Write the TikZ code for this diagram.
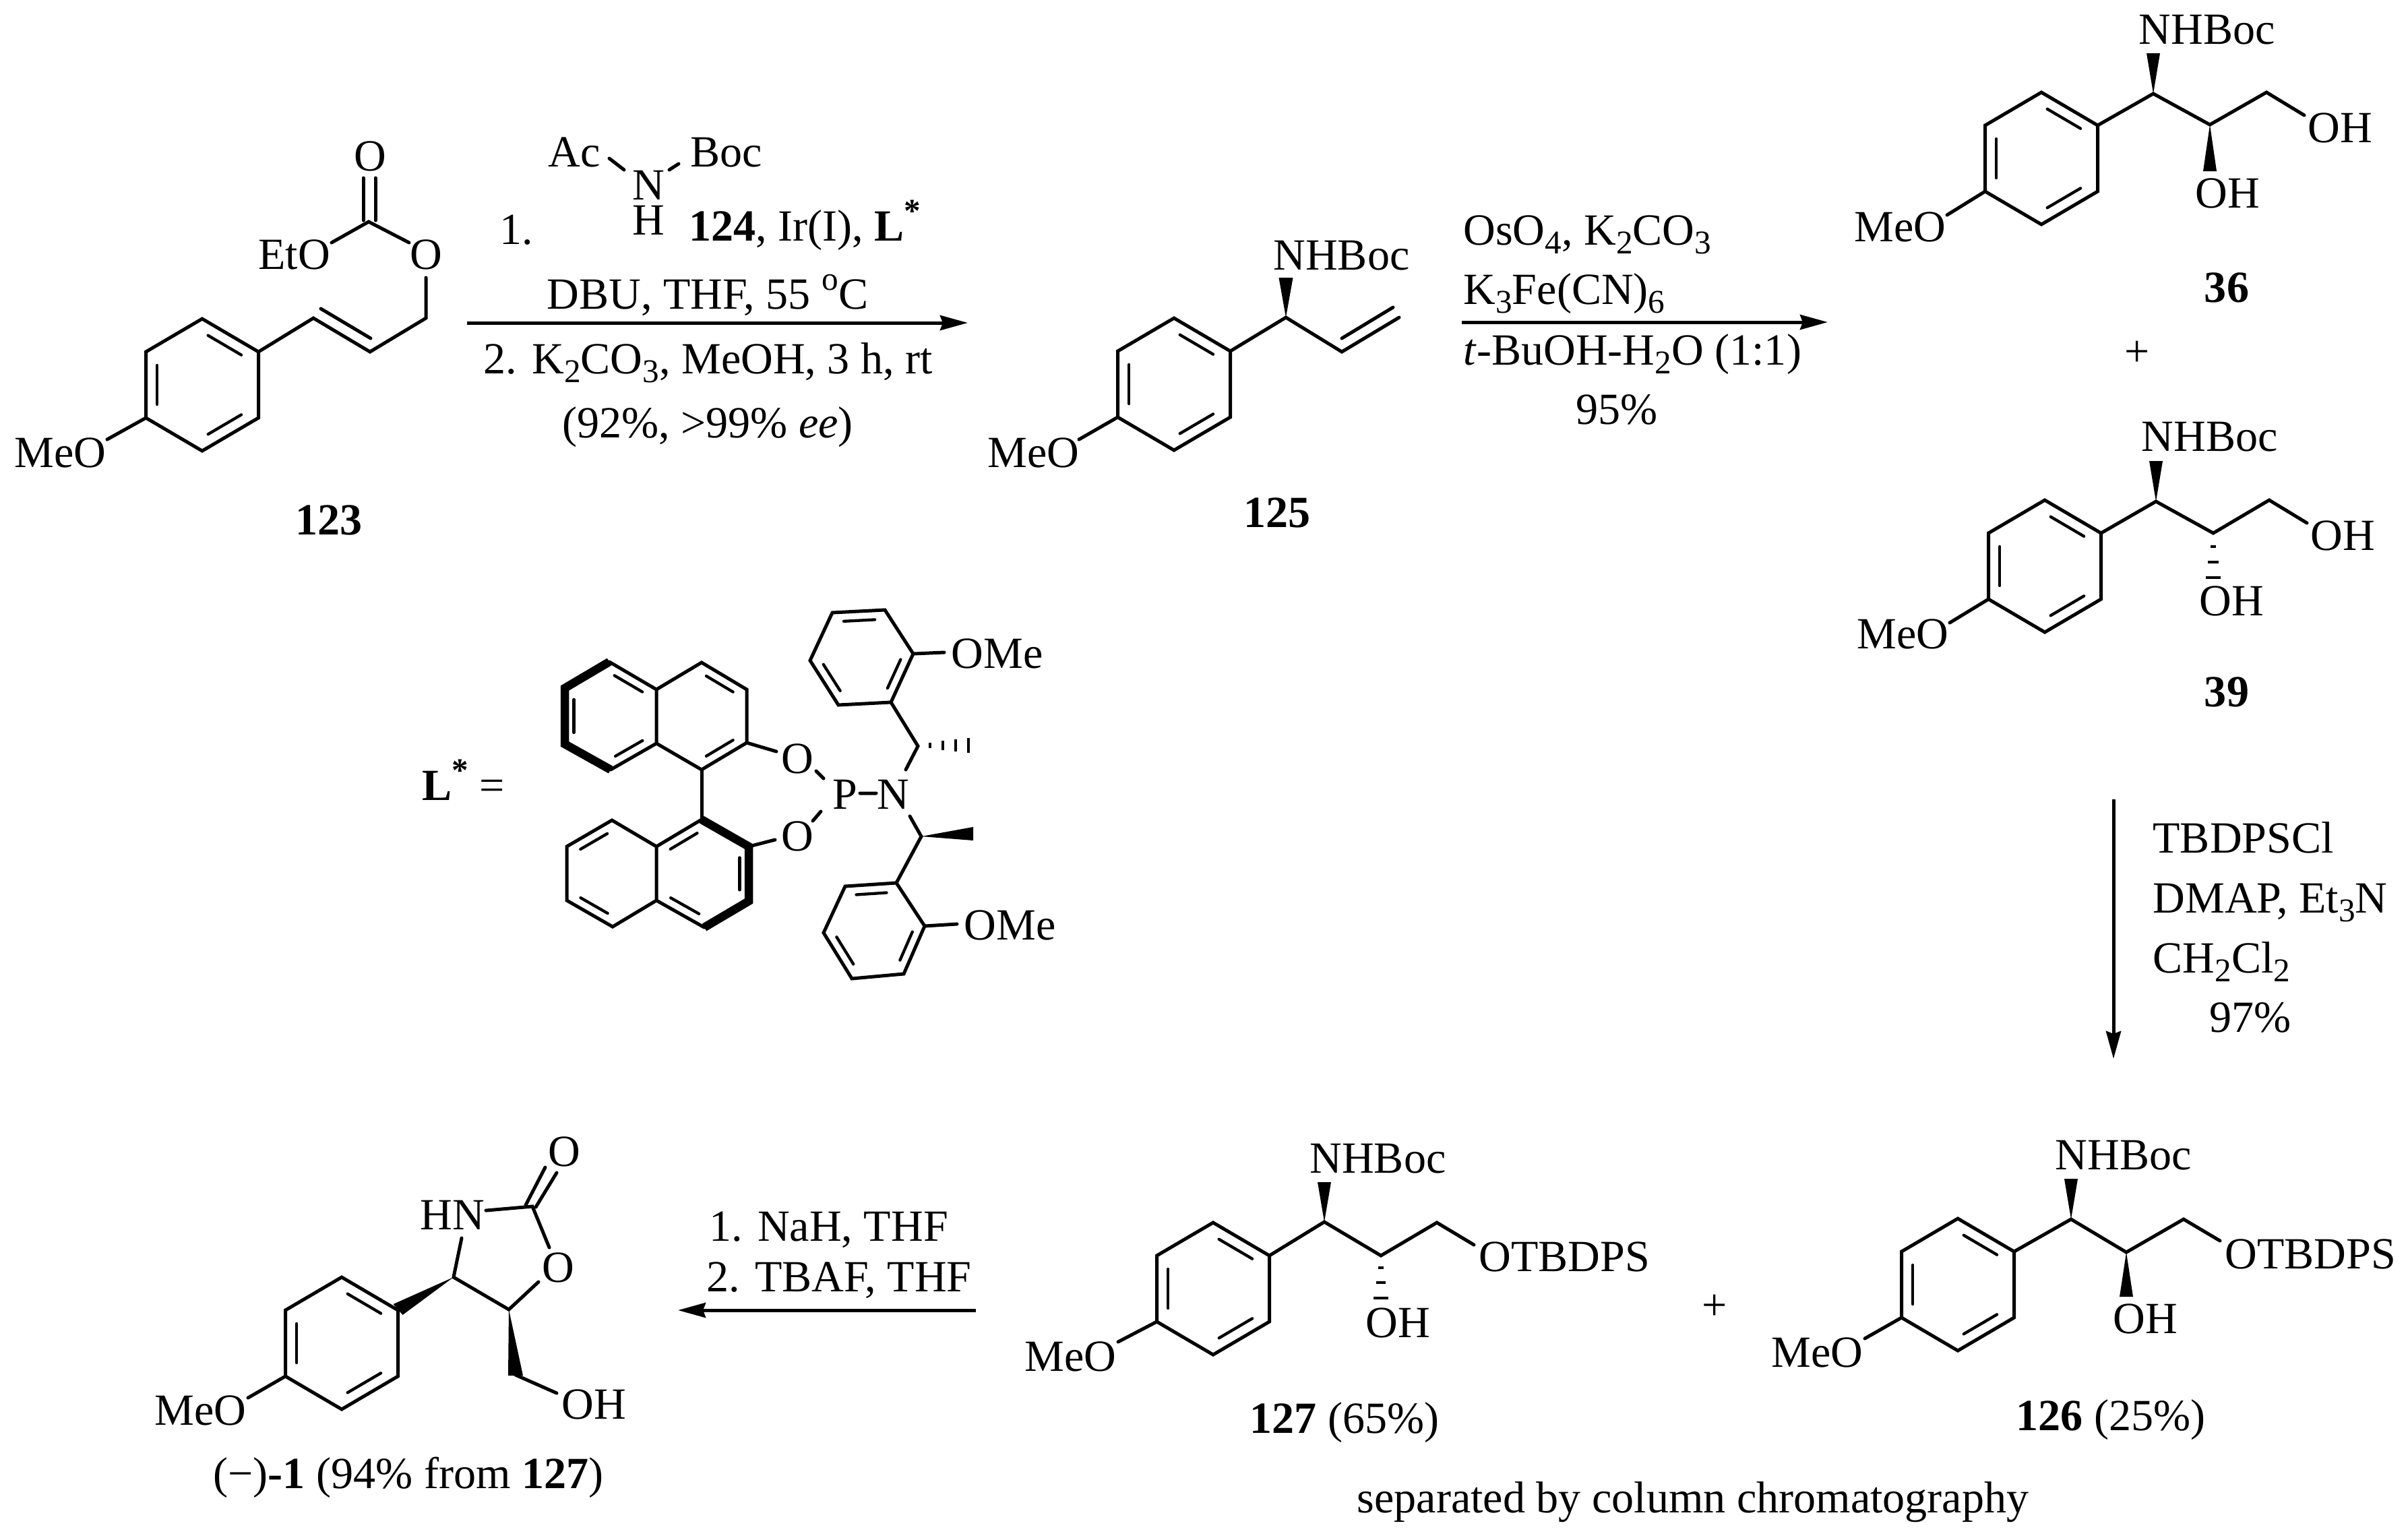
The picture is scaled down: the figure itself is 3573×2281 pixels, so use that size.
\documentclass[tikz,border=0pt]{standalone}
\usepackage{fontspec}
\setmainfont{Liberation Serif}
\usetikzlibrary{calc,arrows.meta}
\newcommand\sbs[1]{\raisebox{-0.2em}{\fontsize{14}{14}\selectfont #1}}
\newcommand\sps[1]{\raisebox{0.42em}{\fontsize{14}{14}\selectfont #1}}
% inner line of a double bond: ends, centre of ring
\newcommand\dblin[3]{\draw[line width=0.043cm] ($(#1)!0.13!(#2)!0.2!(#3)$) -- ($(#2)!0.13!(#1)!0.2!(#3)$);}
% para-substituted ring: prefix, centre x, centre y
\newcommand\arylring[3]{%
  \coordinate (#1c) at (#2,#3);
  \coordinate (#11) at ($(#2,#3)+(0,-98)$);
  \coordinate (#12) at ($(#2,#3)+(83.5,-49)$);
  \coordinate (#13) at ($(#2,#3)+(83.5,49)$);
  \coordinate (#14) at ($(#2,#3)+(0,98)$);
  \coordinate (#15) at ($(#2,#3)+(-83.5,49)$);
  \coordinate (#16) at ($(#2,#3)+(-83.5,-49)$);
  \draw (#11)--(#12)--(#13)--(#14)--(#15)--(#16)--cycle;
  \dblin{#11}{#12}{#1c}\dblin{#13}{#14}{#1c}\dblin{#15}{#16}{#1c}}
\tikzset{
  bond/.style={line width=0.05cm,line join=miter,line cap=round},
  boldbond/.style={line width=0.125cm,line join=miter,line cap=butt},
  txt/.style={anchor=base west,inner sep=0pt,xshift=-0.02cm,yshift=0.02cm,font=\fontsize{18.8}{22}\selectfont},
  ctr/.style={anchor=base,inner sep=0pt,yshift=0.02cm,font=\fontsize{18.8}{22}\selectfont},
  rxn/.style={line width=0.05cm,line cap=butt,-{Stealth[length=0.41cm,width=0.22cm,inset=0.04cm]}},
  hash/.style={line width=0.045cm,line cap=butt}
}
\begin{document}
\begin{tikzpicture}[x=0.01cm,y=-0.01cm,bond]
\useasboundingbox (0,0) rectangle (3573,2281);
\fill[white] (0,0) rectangle (3573,2281);

% ---------- 123
\arylring{a}{300}{571}
\draw (a2)--(465,472)--(549,522)--(632,472)--(632,412);
\draw (476,458)--(550,502);
\draw (a5)--(159,652);
\draw (539,327)--(539,264) (557,327)--(557,264);
\draw (492,360)--(547,329)--(607,360);
\node[txt] (l1) at (21,695) {MeO};
\node[txt] (l2) at (383,401) {EtO};
\node[ctr] (l3) at (632,401) {O};
\node[ctr] (l4) at (549,255) {O};
\node[ctr] (l5) at (488,795) {\textbf{123}};

% reagents 1
\node[txt] (r1) at (813,249) {Ac};
\node[txt] (r2) at (1024,249) {Boc};
\node[ctr] (r3) at (962,298) {N};
\node[ctr] (r4) at (962,350) {H};
\draw (904,235)--(926,252) (1007,243)--(993,252);
\node[txt] (r5) at (741,364) {1.};
\node[txt] (r6) at (1022,359) {\textbf{124}, Ir(I), \textbf{L}\sps{\textbf{*}}};
\node[ctr] (r7) at (1050,460) {DBU, THF, 55 \sps{o}C};
\node[ctr] (r8) at (1051,556) {2. K\sbs{2}CO\sbs{3}, MeOH, 3 h, rt};
\node[ctr] (r9) at (1050,651) {(92\%, >99\% \textit{ee})};
\coordinate (ar1s) at (693,479); \coordinate (ar1e) at (1436,479);
\draw[rxn] (ar1s)--(ar1e);

% ---------- 125
\arylring{b}{1742}{570}
\draw (b2)--(1908,471)--(1991,522)--(2076,471);
\draw (1991,502)--(2067,456);
\fill (1908,471)--(1897.5,412)--(1918.5,412)--cycle;
\draw (b5)--(1601,652);
\node[txt] (m1) at (1889,402) {NHBoc};
\node[txt] (m2) at (1465,695) {MeO};
\node[ctr] (m3) at (1895,784) {\textbf{125}};

% reagents 2
\node[txt] (s1) at (2171,365) {OsO\sbs{4}, K\sbs{2}CO\sbs{3}};
\node[txt] (s2) at (2171,453) {K\sbs{3}Fe(CN)\sbs{6}};
\node[txt] (s3) at (2171,543) {\textit{t}-BuOH-H\sbs{2}O (1:1)};
\node[ctr] (s4) at (2399,631) {95\%};
\coordinate (ar2s) at (2169,478); \coordinate (ar2e) at (2712,478);
\draw[rxn] (ar2s)--(ar2e);

% ---------- 36
\arylring{c}{3029}{235}
\draw (c2)--(3195,139)--(3279,185)--(3363,137)--(3419,171);
\fill (3195,139)--(3185,79)--(3205,79)--cycle;
\fill (3279,185)--(3269,254)--(3289,254)--cycle;
\draw (c5)--(2889,319);
\node[txt] (n1) at (3173,67) {NHBoc};
\node[txt] (n2) at (3424,213) {OH};
\node[txt] (n3) at (3257,310) {OH};
\node[txt] (n4) at (2751,360) {MeO};
\node[ctr] (n5) at (3304,450) {\textbf{36}};
\node[ctr] (n6) at (3171,545) {+};

% ---------- 39
\arylring{d}{3034}{840}
\draw (d2)--(3199,744)--(3284,791)--(3367,742)--(3423,776);
\fill (3199,744)--(3189,684)--(3209,684)--cycle;
\draw[hash] (3280,811)--(3288,811) (3276,834)--(3292,834) (3273,857)--(3295,857);
\draw (d5)--(2893,924);
\node[txt] (o1) at (3177,671) {NHBoc};
\node[txt] (o2) at (3428,818) {OH};
\node[txt] (o3) at (3263,915) {OH};
\node[txt] (o4) at (2755,964) {MeO};
\node[ctr] (o5) at (3304,1050) {\textbf{39}};

% reagents 3
\node[txt] (p1) at (3194,1267) {TBDPSCl};
\node[txt] (p2) at (3194,1356) {DMAP, Et\sbs{3}N};
\node[txt] (p3) at (3194,1445) {CH\sbs{2}Cl\sbs{2}};
\node[txt] (p4) at (3278,1533) {97\%};
\coordinate (ar3s) at (3136,1186); \coordinate (ar3e) at (3136,1571);
\draw[rxn] (ar3s)--(ar3e);

% ---------- L*
\node[txt] (q0) at (626,1189) {\textbf{L}\sps{\textbf{*}} =};
\coordinate (A1) at (904,982);  \coordinate (A2) at (838,1021);
\coordinate (A3) at (838,1104); \coordinate (A4) at (906,1142);
\coordinate (A5) at (974,1103); \coordinate (A6) at (974,1023);
\coordinate (B1) at (1041,983); \coordinate (B2) at (1108,1023);
\coordinate (B3) at (1108,1102);\coordinate (B4) at (1041,1142);
\coordinate (AC) at (906,1062); \coordinate (BC) at (1041,1062);
\draw (A4)--(A5)--(A6)--(A1) (A6)--(B1)--(B2)--(B3)--(B4)--(A5);
\draw[boldbond] (A1)--(A2)--(A3)--(A4);
\dblin{A1}{A6}{AC}\dblin{A2}{A3}{AC}\dblin{A4}{A5}{AC}\dblin{B1}{B2}{BC}\dblin{B3}{B4}{BC}
\coordinate (C1) at (1041,1216); \coordinate (C2) at (1111,1256);
\coordinate (C3) at (1111,1337); \coordinate (C4) at (1045,1376);
\coordinate (C5) at (974,1336);  \coordinate (C6) at (974,1256);
\coordinate (D1) at (908,1217);  \coordinate (D2) at (841,1256);
\coordinate (D3) at (841,1336);  \coordinate (D4) at (909,1375);
\coordinate (CC) at (1043,1296); \coordinate (DC) at (908,1296);
\draw (C4)--(C5)--(C6)--(C1) (C6)--(D1)--(D2)--(D3)--(D4)--(C5);
\draw[boldbond] (C1)--(C2)--(C3)--(C4);
\dblin{C1}{C6}{CC}\dblin{C2}{C3}{CC}\dblin{C4}{C5}{CC}\dblin{D1}{D2}{DC}\dblin{D3}{D4}{DC}
\draw (B4)--(C1);
\draw (B3)--(1152,1115) (C2)--(1150,1246);
\draw (1211,1144)--(1222,1155) (1218,1204)--(1206,1218) (1276,1177)--(1300,1177);
\node[ctr] (q1) at (1183,1149) {O};
\node[ctr] (q2) at (1183,1264) {O};
\node[ctr] (q3) at (1254,1202) {P};
\node[ctr] (q4) at (1325,1202) {N};
% upper aryl
\coordinate (E1) at (1322,1042); \coordinate (E2) at (1355,970);
\coordinate (E3) at (1313,905);  \coordinate (E4) at (1235,909);
\coordinate (E5) at (1202,980);  \coordinate (E6) at (1244,1046);
\coordinate (EC) at (1279,975);
\draw (E1)--(E2)--(E3)--(E4)--(E5)--(E6)--cycle;
\dblin{E1}{E2}{EC}\dblin{E3}{E4}{EC}\dblin{E5}{E6}{EC}
\draw (1344,1142)--(1362,1107)--(E1);
\draw (E2)--(1401,968);
\draw[hash] (1380,1102)--(1380,1110) (1399,1099)--(1399,1113) (1418,1097)--(1418,1115) (1437,1095)--(1437,1117);
\node[txt] (q5) at (1411,993) {OMe};
% lower aryl
\coordinate (F1) at (1330,1310); \coordinate (F2) at (1372,1374);
\coordinate (F3) at (1341,1445); \coordinate (F4) at (1264,1452);
\coordinate (F5) at (1222,1384); \coordinate (F6) at (1254,1315);
\coordinate (FC) at (1297,1380);
\draw (F1)--(F2)--(F3)--(F4)--(F5)--(F6)--cycle;
\dblin{F1}{F6}{FC}\dblin{F2}{F3}{FC}\dblin{F4}{F5}{FC}
\draw (1350,1211)--(1367,1241)--(F1);
\fill (1367,1241)--(1444,1227)--(1444,1247)--cycle;
\draw (F2)--(1420,1371);
\node[txt] (q6) at (1430,1396) {OMe};

% ---------- (-)-1
\arylring{e}{507}{1993}
\coordinate (x4) at (673,1895); \coordinate (x5) at (755,1943);
\coordinate (x2) at (790,1790);
\fill (x4)--($(e2)+(-7,-9)$)--($(e2)+(7,7)$)--cycle;
\draw (685,1837)--(x4)--(x5)--(799,1902);
\draw (721,1796)--(x2)--(815,1851);
\draw (780,1788)--(809,1732) (795,1791)--(826,1740);
\fill (x5)--(754,2041)--(776,2041)--cycle;
\draw (765,2040)--(826,2067);
\draw (e5)--(368,2074);
\node[txt] (u1) at (623,1826) {HN};
\node[ctr] (u2) at (828,1904) {O};
\node[ctr] (u3) at (837,1732) {O};
\node[txt] (u4) at (833,2107) {OH};
\node[txt] (u5) at (229,2116) {MeO};
\node[txt] (u6) at (316,2210) {(−)\textbf{-1} (94\% from \textbf{127})};

% reagents 4
\node[txt] (v1) at (1052,1843) {1. NaH, THF};
\node[txt] (v2) at (1048,1918) {2. TBAF, THF};
\coordinate (ar4s) at (1448,1944); \coordinate (ar4e) at (1006,1944);
\draw[rxn] (ar4s)--(ar4e);

% ---------- 127
\arylring{f}{1800}{1912}
\draw (f2)--(1965,1813)--(2049,1863)--(2132,1814)--(2187,1847);
\fill (1965,1813)--(1955,1754)--(1975,1754)--cycle;
\draw[hash] (2045,1881)--(2053,1881) (2042,1903)--(2056,1903) (2038,1926)--(2060,1926);
\draw (f5)--(1659,1991);
\node[txt] (w1) at (1943,1742) {NHBoc};
\node[txt] (w2) at (2194,1888) {OTBDPS};
\node[txt] (w3) at (2026,1986) {OH};
\node[txt] (w4) at (1520,2036) {MeO};
\node[txt] (w5) at (1854,2128) {\textbf{127} (65\%)};
\node[ctr] (w6) at (2544,1960) {+};

% ---------- 126
\arylring{g}{2905}{1906}
\draw (g2)--(3073,1809)--(3155,1858)--(3240,1809)--(3294,1841);
\fill (3073,1809)--(3063,1749)--(3083,1749)--cycle;
\fill (3155,1858)--(3145,1924)--(3165,1924)--cycle;
\draw (g5)--(2767,1986);
\node[txt] (y1) at (3049,1737) {NHBoc};
\node[txt] (y2) at (3301,1884) {OTBDPS};
\node[txt] (y3) at (3135,1980) {OH};
\node[txt] (y4) at (2628,2030) {MeO};
\node[txt] (y5) at (2991,2124) {\textbf{126} (25\%)};
\node[txt] (y6) at (2013,2246) {separated by column chromatography};
\end{tikzpicture}
\end{document}
